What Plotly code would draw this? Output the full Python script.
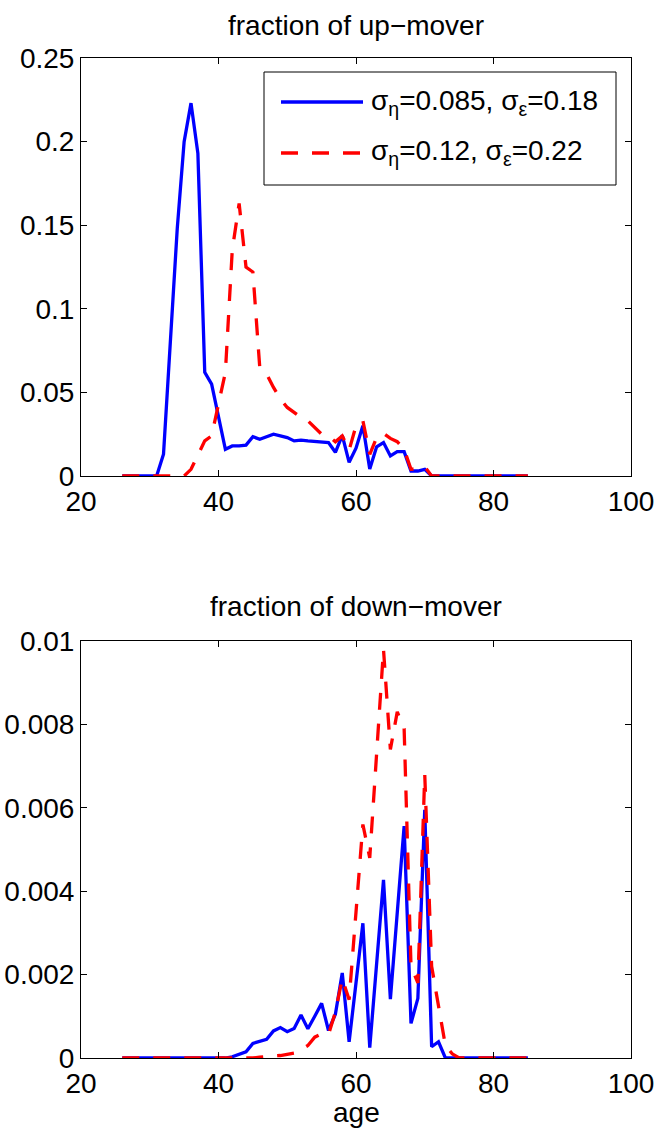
import plotly.graph_objects as go

# ages (x categories)
ages = list(range(26, 86))

# fraction of up-mover
up_sig1 = [0, 0, 0, 0, 0, 0,
           0.013, 0.078, 0.148, 0.200, 0.223, 0.193, 0.062, 0.055, 0.036, 0.016,
           0.018, 0.018, 0.0185, 0.0235, 0.022, 0.0235, 0.025, 0.024, 0.023, 0.021,
           0.0215, 0.021, 0.0207, 0.0207, 0.020, 0.0142, 0.0243, 0.0082, 0.0166, 0.030,
           0.0042, 0.0175, 0.020, 0.012, 0.0146, 0.0146, 0.003, 0.003, 0.004,
           0, 0, 0, 0, 0, 0, 0, 0, 0, 0, 0, 0, 0, 0, 0]
up_sig2 = [0, 0, 0, 0, 0, 0, 0, 0, 0, 0,
           0.004, 0.012, 0.021, 0.024, 0.042, 0.062, 0.135, 0.163, 0.125, 0.122,
           0.065, 0.061, 0.053, 0.046, 0.041, 0.038, 0.035, 0.033, 0.029, 0.025,
           0.024, 0.0205, 0.024, 0.0155, 0.030, 0.033, 0.013, 0.023, 0.0255, 0.0225,
           0.0205, 0.016, 0.004, 0.0045, 0.0056,
           0, 0, 0, 0, 0, 0, 0, 0, 0, 0, 0, 0, 0, 0, 0]

# fraction of down-mover
down_sig1 = [0, 0, 0, 0, 0, 0, 0, 0, 0, 0, 0, 0, 0, 0, 0, 0,
             0.00003, 0.0001, 0.00015, 0.00035, 0.0004, 0.00045, 0.00065, 0.00073,
             0.00063, 0.00071, 0.00103, 0.0007, 0.001, 0.00131, 0.00066, 0.00105,
             0.00204, 0.00039, 0.0018, 0.00323, 0.00025, 0.00225, 0.00427, 0.00141,
             0.0035, 0.00556, 0.00083, 0.00143, 0.00595, 0.00027, 0.00039,
             0, 0, 0, 0, 0, 0, 0, 0, 0, 0, 0, 0, 0]
down_sig2 = [0, 0, 0, 0, 0, 0, 0, 0, 0, 0, 0, 0, 0, 0, 0, 0, 0, 0, 0, 0,
             0.00002, 0.00004, 0.00005, 0.00006, 0.00008, 0.00012, 0.0002, 0.0003,
             0.0005, 0.00058, 0.00056, 0.0011, 0.0019, 0.0014, 0.0035, 0.0056,
             0.0048, 0.0074, 0.0098, 0.0074, 0.0083, 0.0079, 0.0022, 0.0018,
             0.0068, 0.0022, 0.0012, 0.0003, 0.0001,
             0, 0, 0, 0, 0, 0, 0, 0, 0, 0, 0]

x_ticks = [20, 40, 60, 80, 100]
up_ticks = [0, 0.05, 0.1, 0.15, 0.2, 0.25]
up_ticktext = ["0", "0.05", "0.1", "0.15", "0.2", "0.25"]
down_ticks = [0, 0.002, 0.004, 0.006, 0.008, 0.01]
down_ticktext = ["0", "0.002", "0.004", "0.006", "0.008", "0.01"]

series_names = ["σ<sub>η</sub>=0.085, σ<sub>ε</sub>=0.18",
                "σ<sub>η</sub>=0.12, σ<sub>ε</sub>=0.22"]

BLUE = "#0000ff"
RED = "#ff0000"
DASH = "17px,14px"
LW = 3.3
FONT = "Liberation Sans, Arial, Helvetica, sans-serif"
FS = 28

fig = go.Figure()
fig.add_trace(go.Scatter(x=ages, y=up_sig1, xaxis="x", yaxis="y", mode="lines",
                         line=dict(color=BLUE, width=LW), name=series_names[0]))
fig.add_trace(go.Scatter(x=ages, y=up_sig2, xaxis="x", yaxis="y", mode="lines",
                         line=dict(color=RED, width=LW, dash=DASH), name=series_names[1]))
fig.add_trace(go.Scatter(x=ages, y=down_sig1, xaxis="x2", yaxis="y2", mode="lines",
                         line=dict(color=BLUE, width=LW), name=series_names[0]))
fig.add_trace(go.Scatter(x=ages, y=down_sig2, xaxis="x2", yaxis="y2", mode="lines",
                         line=dict(color=RED, width=LW, dash=DASH), name=series_names[1]))

axis_common = dict(showline=True, linecolor="black", linewidth=1, mirror="ticks",
                   ticks="inside", ticklen=6, tickcolor="black", tickwidth=1,
                   showgrid=False, zeroline=False, automargin=False,
                   tickfont=dict(family=FONT, size=FS, color="black"))

fig.update_layout(
    width=657, height=1135,
    margin=dict(l=81, r=26, t=58, b=77),
    paper_bgcolor="white", plot_bgcolor="white",
    showlegend=False,
    font=dict(family=FONT, size=FS, color="black"),
    xaxis=dict(domain=[0, 1], anchor="y", range=[20, 100], tickvals=x_ticks, **axis_common),
    yaxis=dict(domain=[0.582, 1.0], anchor="x", range=[0, 0.25], tickvals=up_ticks,
               ticktext=up_ticktext, **axis_common),
    xaxis2=dict(domain=[0, 1], anchor="y2", range=[20, 100], tickvals=x_ticks, **axis_common),
    yaxis2=dict(domain=[0, 0.417], anchor="x2", range=[0, 0.01], tickvals=down_ticks,
                ticktext=down_ticktext, **axis_common),
)

annotations = [
    dict(text="fraction of up\u2212mover", x=0.5, y=1.033, xref="paper", yref="paper",
         xanchor="center", yanchor="middle", showarrow=False, font=dict(size=FS)),
    dict(text="fraction of down\u2212mover", x=0.5, y=0.451, xref="paper", yref="paper",
         xanchor="center", yanchor="middle", showarrow=False, font=dict(size=FS)),
    dict(text="age", x=0.5, y=-0.054, xref="paper", yref="paper",
         xanchor="center", yanchor="middle", showarrow=False, font=dict(size=FS)),
]

# legend (drawn inside top axes)
lx0, lx1 = (264 - 81) / 550, (616 - 81) / 550
ly0, ly1 = (1058 - 185) / 1000, (1058 - 72) / 1000
shapes = [dict(type="rect", xref="paper", yref="paper", x0=lx0, x1=lx1, y0=ly0, y1=ly1,
               line=dict(color="black", width=1), fillcolor="white", layer="above")]
rows = [(1058 - 102) / 1000, (1058 - 153) / 1000]
styles = [dict(color=BLUE, width=LW), dict(color=RED, width=LW, dash=DASH)]
for ry, st, nm in zip(rows, styles, series_names):
    shapes.append(dict(type="line", xref="paper", yref="paper",
                       x0=(281 - 81) / 550, x1=(363 - 81) / 550, y0=ry, y1=ry,
                       line=st, layer="above"))
    annotations.append(dict(text=nm, x=(369 - 81) / 550, y=ry, xref="paper", yref="paper",
                            xanchor="left", yanchor="middle", showarrow=False,
                            font=dict(size=FS)))

fig.update_layout(shapes=shapes, annotations=annotations)
fig.write_html("out.html")
